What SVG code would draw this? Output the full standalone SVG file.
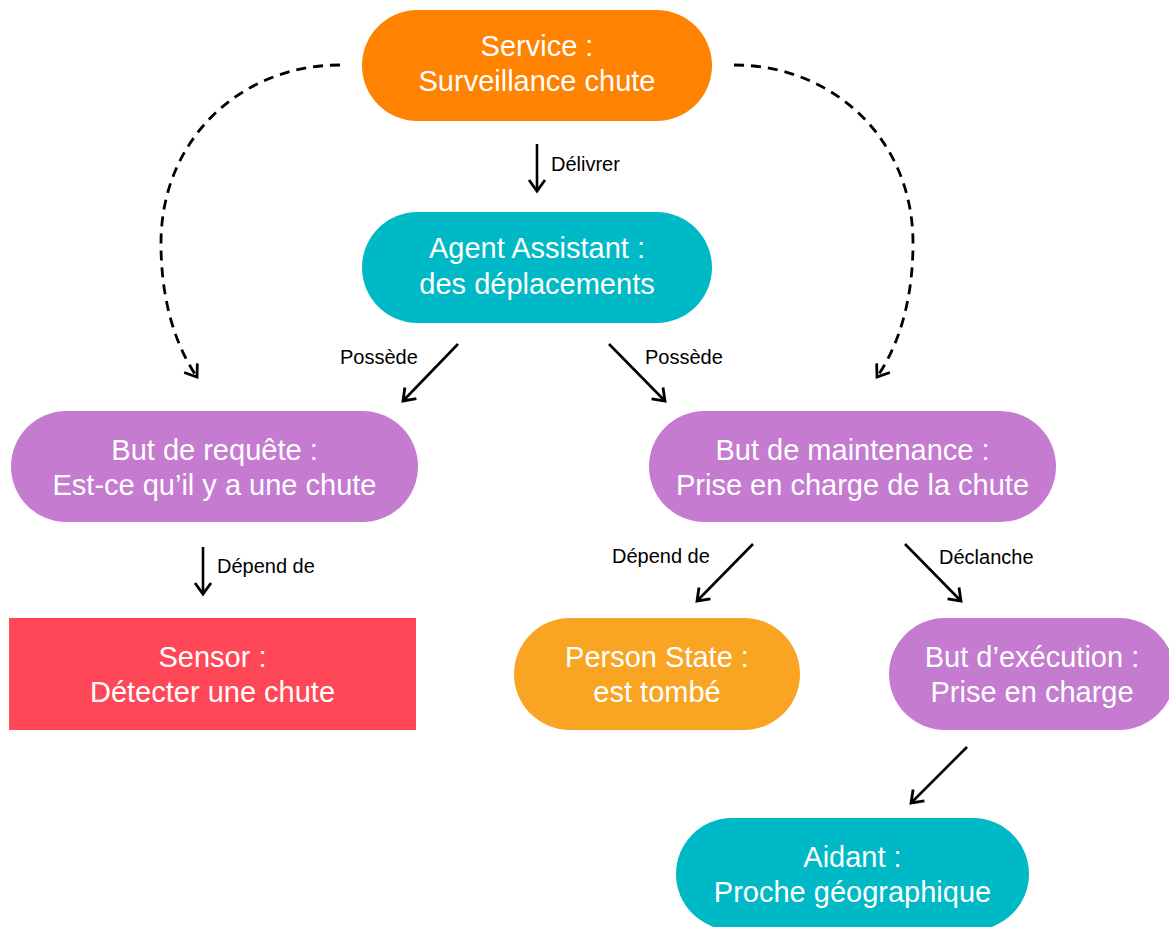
<svg xmlns="http://www.w3.org/2000/svg" width="1169" height="927" viewBox="0 0 1169 927">
<style>
.nt{font-family:"Liberation Sans",Arial,sans-serif;font-size:29px;fill:#ffffff;text-anchor:middle}
.lb{font-family:"Liberation Sans",Arial,sans-serif;font-size:20px;fill:#000000}
.ar{fill:none;stroke:#000;stroke-width:2.6;marker-end:url(#ah)}
.da{fill:none;stroke:#000;stroke-width:2.8;stroke-dasharray:10 7;marker-end:url(#ah)}
</style>
<defs>
<marker id="ah" markerUnits="userSpaceOnUse" markerWidth="30" markerHeight="30" viewBox="-15 -15 30 30" refX="0" refY="0" orient="auto">
<path d="M-11,-8 L0,0 L-11,8" fill="none" stroke="#000" stroke-width="2.8" stroke-linejoin="miter"/>
</marker>
</defs>
<rect width="1169" height="927" fill="#ffffff"/>
<g id="connectors">
<path class="da" d="M340,65 C240,65 161,140 161,243 C161,300 175,345 197,377"/>
<path class="da" d="M734,65 C834,65 913,140 913,243 C913,300 899,345 877,377"/>
<line class="ar" x1="537" y1="144" x2="537" y2="191"/>
<line class="ar" x1="458" y1="344" x2="403" y2="401"/>
<line class="ar" x1="609" y1="344" x2="665" y2="401"/>
<line class="ar" x1="203" y1="547" x2="203" y2="594"/>
<line class="ar" x1="753" y1="544" x2="697" y2="601"/>
<line class="ar" x1="905" y1="544" x2="961" y2="601"/>
<line class="ar" x1="967" y1="747" x2="911" y2="803"/>
<text class="lb" x="551" y="171">Délivrer</text>
<text class="lb" x="340" y="364">Possède</text>
<text class="lb" x="645" y="364">Possède</text>
<text class="lb" x="217" y="573">Dépend de</text>
<text class="lb" x="612" y="563">Dépend de</text>
<text class="lb" x="939" y="564">Déclanche</text>
</g>
<g id="service">
<rect x="362" y="10" width="350" height="111" rx="55.5" fill="#FF8200"/>
<text class="nt" x="537" y="56">Service :</text>
<text class="nt" x="537" y="91">Surveillance chute</text>
</g>
<g id="agent">
<rect x="362" y="212" width="350" height="111" rx="55.5" fill="#00B9C6"/>
<text class="nt" x="537" y="258">Agent Assistant :</text>
<text class="nt" x="537" y="294">des déplacements</text>
</g>
<g id="but-requete">
<rect x="11" y="411" width="407" height="111" rx="55.5" fill="#C47BD0"/>
<text class="nt" x="214.5" y="460">But de requête :</text>
<text class="nt" x="214.5" y="495">Est-ce qu’il y a une chute</text>
</g>
<g id="but-maintenance">
<rect x="649" y="411" width="407" height="111" rx="55.5" fill="#C47BD0"/>
<text class="nt" x="852.5" y="460">But de maintenance :</text>
<text class="nt" x="852.5" y="495">Prise en charge de la chute</text>
</g>
<g id="sensor">
<rect x="9" y="618" width="407" height="112" fill="#FF4757"/>
<text class="nt" x="212.5" y="667">Sensor :</text>
<text class="nt" x="212.5" y="702">Détecter une chute</text>
</g>
<g id="person-state">
<rect x="514" y="618" width="286" height="112" rx="56" fill="#F9A422"/>
<text class="nt" x="657" y="667">Person State :</text>
<text class="nt" x="657" y="702">est tombé</text>
</g>
<g id="but-execution">
<rect x="889" y="618" width="286" height="112" rx="56" fill="#C47BD0"/>
<text class="nt" x="1032" y="667">But d’exécution :</text>
<text class="nt" x="1032" y="702">Prise en charge</text>
</g>
<g id="aidant">
<rect x="676" y="818" width="353" height="112" rx="56" fill="#00B9C6"/>
<text class="nt" x="852.5" y="867">Aidant :</text>
<text class="nt" x="852.5" y="902">Proche géographique</text>
</g>
</svg>
